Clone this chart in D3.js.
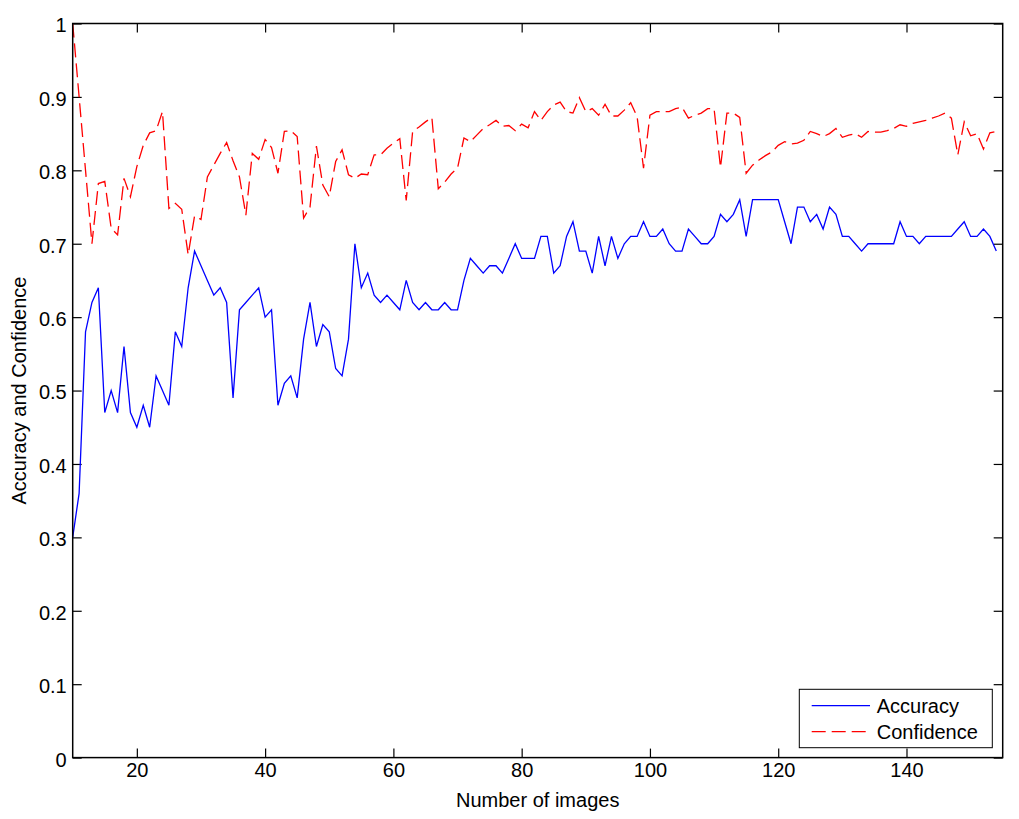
<!DOCTYPE html>
<html>
<head>
<meta charset="utf-8">
<script src="https://cdn.jsdelivr.net/npm/d3@7"></script>
<style>
  html, body { margin: 0; padding: 0; background: #fff; }
  svg { display: block; }
  text { font-family: "Liberation Sans", Arial, Helvetica, sans-serif; fill: #000; }
</style>
</head>
<body>
<svg id="chart" width="1019" height="819"></svg>
<script>
// ---------- data ----------
const imageCounts = d3.range(10, 155); // 10 .. 154

const accuracy = [
  0.30, 0.36, 0.58, 0.62, 0.64, 0.47, 0.50, 0.47, 0.56, 0.47,
  0.45, 0.48, 0.45, 0.52, 0.50, 0.48, 0.58, 0.56, 0.64, 0.69,
  0.67, 0.65, 0.63, 0.64, 0.62, 0.49, 0.61, 0.62, 0.63, 0.64,
  0.60, 0.61, 0.48, 0.51, 0.52, 0.49, 0.57, 0.62, 0.56, 0.59,
  0.58, 0.53, 0.52, 0.57, 0.70, 0.64, 0.66, 0.63, 0.62, 0.63,
  0.62, 0.61, 0.65, 0.62, 0.61, 0.62, 0.61, 0.61, 0.62, 0.61,
  0.61, 0.65, 0.68, 0.67, 0.66, 0.67, 0.67, 0.66, 0.68, 0.70,
  0.68, 0.68, 0.68, 0.71, 0.71, 0.66, 0.67, 0.71, 0.73, 0.69,
  0.69, 0.66, 0.71, 0.67, 0.71, 0.68, 0.70, 0.71, 0.71, 0.73,
  0.71, 0.71, 0.72, 0.70, 0.69, 0.69, 0.72, 0.71, 0.70, 0.70,
  0.71, 0.74, 0.73, 0.74, 0.76, 0.71, 0.76, 0.76, 0.76, 0.76,
  0.76, 0.73, 0.70, 0.75, 0.75, 0.73, 0.74, 0.72, 0.75, 0.74,
  0.71, 0.71, 0.70, 0.69, 0.70, 0.70, 0.70, 0.70, 0.70, 0.73,
  0.71, 0.71, 0.70, 0.71, 0.71, 0.71, 0.71, 0.71, 0.72, 0.73,
  0.71, 0.71, 0.72, 0.71, 0.69
];

const confidence = [
  1.00, 0.90, 0.80, 0.70, 0.782, 0.785, 0.721, 0.712, 0.789, 0.764,
  0.805, 0.834, 0.851, 0.854, 0.88, 0.748, 0.755, 0.747, 0.685, 0.738,
  0.733, 0.791, 0.807, 0.823, 0.838, 0.813, 0.791, 0.739, 0.823, 0.815,
  0.842, 0.831, 0.796, 0.853, 0.854, 0.846, 0.735, 0.75, 0.833, 0.78,
  0.764, 0.812, 0.828, 0.794, 0.789, 0.795, 0.794, 0.821, 0.821, 0.83,
  0.837, 0.843, 0.759, 0.853, 0.859, 0.866, 0.872, 0.775, 0.784, 0.795,
  0.803, 0.844, 0.839, 0.848, 0.857, 0.862, 0.868, 0.86, 0.861, 0.854,
  0.863, 0.858, 0.88, 0.868, 0.88, 0.889, 0.893, 0.88, 0.878, 0.899,
  0.88, 0.884, 0.875, 0.89, 0.874, 0.874, 0.882, 0.892, 0.873, 0.803,
  0.875, 0.88, 0.88, 0.88, 0.884, 0.886, 0.871, 0.875, 0.878, 0.884,
  0.884, 0.804, 0.878, 0.878, 0.872, 0.796, 0.807, 0.814, 0.82, 0.825,
  0.834, 0.839, 0.836, 0.837, 0.841, 0.853, 0.85, 0.846, 0.85, 0.857,
  0.845, 0.848, 0.85, 0.845, 0.853, 0.852, 0.852, 0.854, 0.857, 0.862,
  0.86, 0.864, 0.866, 0.868, 0.871, 0.874, 0.878, 0.871, 0.821, 0.866,
  0.847, 0.85, 0.829, 0.851, 0.853
];

const xTickValues = [20, 40, 60, 80, 100, 120, 140];
const yTickValues = [0, 0.1, 0.2, 0.3, 0.4, 0.5, 0.6, 0.7, 0.8, 0.9, 1];
const yTickLabels = ["0", "0.1", "0.2", "0.3", "0.4", "0.5", "0.6", "0.7", "0.8", "0.9", "1"];
const seriesNames = ["Accuracy", "Confidence"];
const xLabel = "Number of images";
const yLabel = "Accuracy and Confidence";

// ---------- layout ----------
const L = 72.7, R = 1002.7, T = 23.5, B = 757.6;
const svg = d3.select("#chart");

const x = d3.scaleLinear().domain([10, 155]).range([L, R]);
const y = d3.scaleLinear().domain([0, 1]).range([B, T]);

const fontSize = 20;
const tickLen = 9;

// axes
const gBottom = svg.append("g").attr("transform", `translate(0,${B})`)
  .call(d3.axisBottom(x).tickValues(xTickValues).tickSizeInner(-tickLen).tickSizeOuter(0).tickPadding(5).tickFormat(d3.format("d")));
const gTop = svg.append("g").attr("transform", `translate(0,${T})`)
  .call(d3.axisTop(x).tickValues(xTickValues).tickSizeInner(-tickLen).tickSizeOuter(0).tickFormat(""));
const gLeft = svg.append("g").attr("transform", `translate(${L},0)`)
  .call(d3.axisLeft(y).tickValues(yTickValues).tickSizeInner(-tickLen).tickSizeOuter(0).tickPadding(6)
    .tickFormat((d, i) => yTickLabels[i]));
const gRight = svg.append("g").attr("transform", `translate(${R},0)`)
  .call(d3.axisRight(y).tickValues(yTickValues).tickSizeInner(-tickLen).tickSizeOuter(0).tickFormat(""));

[gBottom, gTop, gLeft, gRight].forEach(g => {
  g.select(".domain").remove();
  g.selectAll(".tick line").attr("stroke", "#000").attr("stroke-width", 1.2);
  g.selectAll(".tick text").attr("font-size", fontSize).attr("font-family", '"Liberation Sans", Arial, sans-serif').attr("fill", "#000");
});
gLeft.selectAll(".tick text").attr("dy", "0.42em");

// lines
const accLine = d3.line().x((d, i) => x(imageCounts[i])).y(d => y(d));
svg.append("path").datum(accuracy)
  .attr("d", accLine).attr("fill", "none").attr("stroke", "#0000ff").attr("stroke-width", 1.3)
  .attr("stroke-linejoin", "miter");
svg.append("path").datum(confidence)
  .attr("d", accLine).attr("fill", "none").attr("stroke", "#ff0000").attr("stroke-width", 1.3)
  .attr("stroke-dasharray", "14,6");

// frame
svg.append("rect").attr("x", L).attr("y", T).attr("width", R - L).attr("height", B - T)
  .attr("fill", "none").attr("stroke", "#000").attr("stroke-width", 1.5);

// axis labels
svg.append("text").attr("x", (L + R) / 2).attr("y", 807).attr("text-anchor", "middle")
  .attr("font-size", fontSize).text(xLabel);
svg.append("text").attr("transform", `translate(26,${(T + B) / 2}) rotate(-90)`)
  .attr("text-anchor", "middle").attr("font-size", fontSize).text(yLabel);

// legend
const lg = svg.append("g");
lg.append("rect").attr("x", 799.3).attr("y", 689.3).attr("width", 193).attr("height", 58.4)
  .attr("fill", "#fff").attr("stroke", "#000").attr("stroke-width", 1);
const legendItems = [
  { name: seriesNames[0], color: "#0000ff", dash: null, yy: 705.7 },
  { name: seriesNames[1], color: "#ff0000", dash: "14,6", yy: 731.7 }
];
legendItems.forEach(it => {
  const ln = lg.append("line").attr("x1", 811.7).attr("x2", 870).attr("y1", it.yy).attr("y2", it.yy)
    .attr("stroke", it.color).attr("stroke-width", 1.3);
  if (it.dash) ln.attr("stroke-dasharray", it.dash);
  lg.append("text").attr("x", 876.7).attr("y", it.yy + 7.3).attr("font-size", fontSize).text(it.name);
});
</script>
</body>
</html>
